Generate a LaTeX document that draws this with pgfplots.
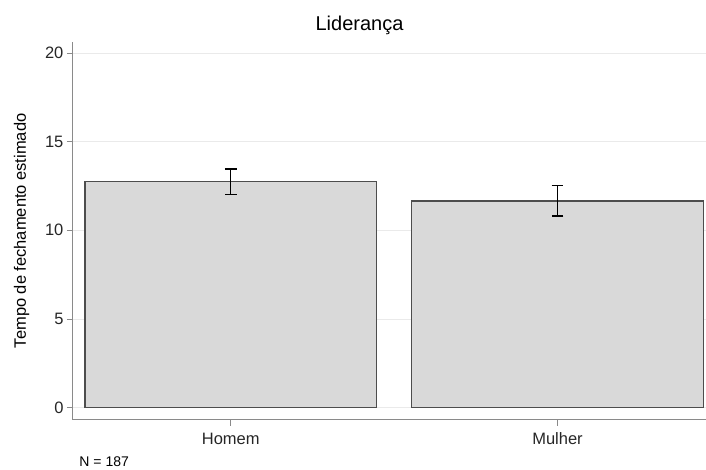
\documentclass[border=0pt]{standalone}
\usepackage{fontspec}
\setmainfont{Liberation Sans}
\usepackage{pgfplots}
\pgfplotsset{compat=1.18}
\definecolor{barfill}{HTML}{D9D9D9}
\definecolor{baredge}{HTML}{4D4D4D}
\definecolor{gridc}{HTML}{EAEAEA}
\definecolor{spine}{HTML}{8A8A8A}
\begin{document}
\begin{tikzpicture}
\begin{axis}[
    scale only axis, width=633pt, height=378pt,
    xmin=-0.483, xmax=1.453, ymin=-0.68, ymax=20.62,
    axis lines=left, axis line style={spine, line width=1pt, -},
    xtick={0,1}, xticklabels={Homem,Mulher},
    ytick={0,5,10,15,20},
    tick style={spine, line width=0.8pt},
    tick align=outside, major tick length=6pt,
    ymajorgrids, grid style={gridc, line width=0.8pt},
    ylabel={Tempo de fechamento estimado},
    ylabel style={font=\fontsize{16.5}{18}\selectfont, yshift=9pt},
    tick label style={font=\fontsize{16.5}{18}\selectfont, black!85},
    xticklabel style={text height=12pt, text depth=3pt, yshift=-3pt},
    /pgf/number format/assume math mode=true,
    title={Liderança},
    title style={font=\fontsize{20}{22}\selectfont, at={(0.453,1)}, anchor=south, yshift=-2pt},
    clip=false,
]
\addplot[ybar, bar width=0.893, fill=barfill, draw=baredge, line width=1.6pt,
    error bars/.cd, y dir=both, y explicit,
    error bar style={black, line width=1.2pt},
    error mark options={rotate=90, mark size=6pt, line width=1.2pt, black}]
    coordinates {(0,12.75) +- (0,0.71) (1,11.66) +- (0,0.85)};
\node[anchor=west, font=\fontsize{14}{16}\selectfont] at (rel axis cs:0,0) [xshift=3pt, yshift=-42pt] {N = 187};
\end{axis}
\path[use as bounding box] (-73pt,-48pt) rectangle (633pt,420pt);
\end{tikzpicture}
\end{document}
